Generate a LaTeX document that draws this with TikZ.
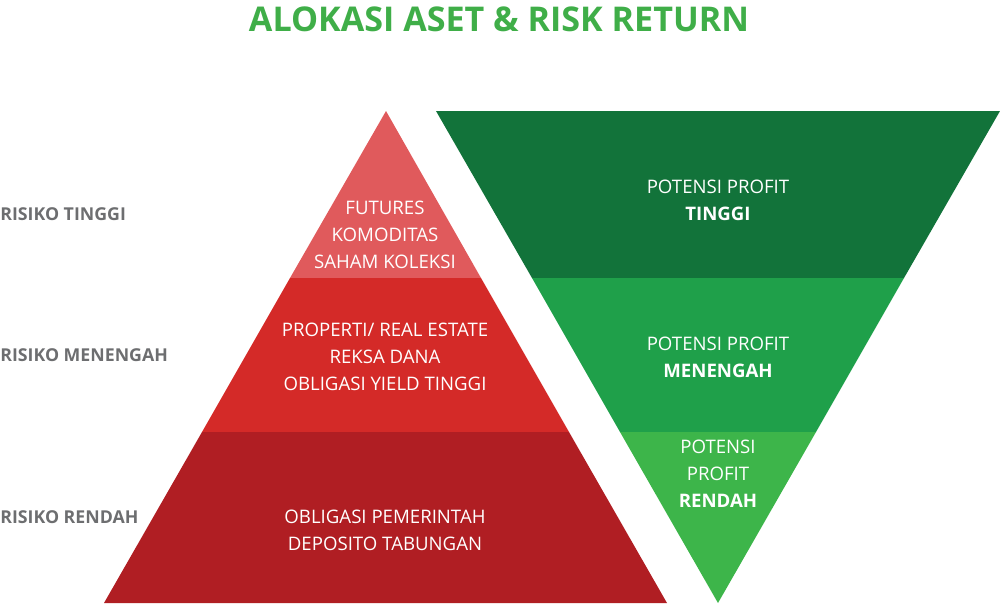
\documentclass[tikz,border=0pt]{standalone}
\usepackage{fontspec}
\setmainfont{Open Sans}
\usepackage{tikz}
\usetikzlibrary{positioning,calc}
\definecolor{titlegreen}{RGB}{63,174,72}
\definecolor{labelgray}{RGB}{109,110,112}
\definecolor{riskhigh}{RGB}{224,90,92}
\definecolor{riskmid}{RGB}{212,42,40}
\definecolor{risklow}{RGB}{176,30,35}
\definecolor{profithigh}{RGB}{18,115,58}
\definecolor{profitmid}{RGB}{31,160,74}
\definecolor{profitlow}{RGB}{61,181,74}
\tikzset{
  bandtext/.style={align=center,text=white,inner sep=0pt,
    font=\fontsize{10.6}{15.4}\selectfont},
  sidelabel/.style={anchor=west,inner sep=0pt,text=labelgray,
    font=\fontsize{10.1}{11}\selectfont\bfseries},
}
\begin{document}
\begin{tikzpicture}[x=0.02cm,y=-0.02cm]
\useasboundingbox (0,0) rectangle (1000,603);
\node[font=\fontsize{19.4}{22}\selectfont\bfseries,text=titlegreen,inner sep=0pt]
  (title) at (499,19) {ALOKASI ASET \& RISK RETURN};
\fill[riskhigh] (386,111) -- (481,278) -- (290,278) -- cycle;
\fill[riskmid] (290,278) -- (481,278) -- (569,432) -- (202,432) -- cycle;
\fill[risklow] (202,432) -- (569,432) -- (667,603) -- (104,603) -- cycle;
\fill[profithigh] (436,111) -- (1000,111) -- (904,278) -- (532,278) -- cycle;
\fill[profitmid] (532,278) -- (904,278) -- (816,432) -- (620,432) -- cycle;
\fill[profitlow] (620,432) -- (816,432) -- (718,603) -- cycle;
\node[sidelabel] (rhigh) at (0,214) {RISIKO TINGGI};
\node[sidelabel] (rmid) at (0,355) {RISIKO MENENGAH};
\node[sidelabel] (rlow) at (0,517) {RISIKO RENDAH};
\node[bandtext] (ahigh) at (385,235)
  {FUTURES\\KOMODITAS\\SAHAM KOLEKSI};
\node[bandtext] (amid) at (385,357)
  {PROPERTI/ REAL ESTATE\\REKSA DANA\\OBLIGASI YIELD TINGGI};
\node[bandtext] (alow) at (385,530)
  {OBLIGASI PEMERINTAH\\DEPOSITO TABUNGAN};
\node[bandtext] (phigh) at (718,200)
  {POTENSI PROFIT\\\textbf{TINGGI}};
\node[bandtext] (pmid) at (718,357)
  {POTENSI PROFIT\\\textbf{MENENGAH}};
\node[bandtext] (plow) at (718,474)
  {POTENSI\\PROFIT\\\textbf{RENDAH}};
\end{tikzpicture}
\end{document}
